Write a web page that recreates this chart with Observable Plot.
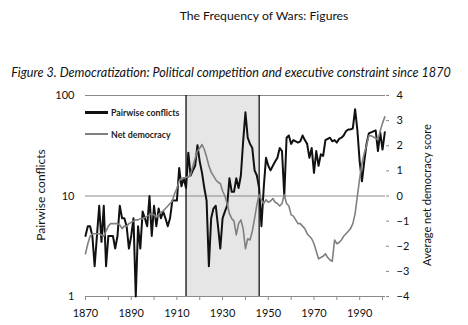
<!DOCTYPE html>
<html><head><meta charset="utf-8">
<script src="https://cdn.jsdelivr.net/npm/d3@7"></script>
<script src="https://cdn.jsdelivr.net/npm/@observablehq/plot@0.6"></script>
<style>
body{margin:0;background:#fff;font-family:Lato,"Open Sans",sans-serif;color:#111;}
#wrap{position:relative;width:468px;height:325px;overflow:hidden;background:#fff;}
.abs{position:absolute;white-space:nowrap;}
#t1{left:264px;top:15px;transform:translate(-50%,-50%);font-size:12.2px;}
#t2{left:231px;top:72px;transform:translate(-50%,-50%);font-size:12.6px;font-style:italic;}
#ylab{left:40px;top:195px;transform:translate(-50%,-50%) rotate(-90deg);font-size:12px;}
#y2lab{left:426px;top:195px;transform:translate(-50%,-50%) rotate(-90deg);font-size:11px;}
.plot{position:absolute;left:0;top:85px;}
.leg{position:absolute;left:85px;font-size:8.8px;display:flex;align-items:center;font-weight:bold;color:#222;}
.leg span.l{display:inline-block;width:23px;margin-right:3px;}
</style></head>
<body>
<div id="wrap">
  <div id="t1" class="abs">The Frequency of Wars: Figures</div>
  <div id="t2" class="abs">Figure 3. Democratization: Political competition and executive constraint since 1870</div>
  <div id="ylab" class="abs">Pairwise conflicts</div>
  <div id="y2lab" class="abs">Average net democracy score</div>
</div>
<script>
const years = [1870,1871,1872,1873,1874,1875,1876,1877,1878,1879,
1880,1881,1882,1883,1884,1885,1886,1887,1888,1889,
1890,1891,1892,1893,1894,1895,1896,1897,1898,1899,
1900,1901,1902,1903,1904,1905,1906,1907,1908,1909,
1910,1911,1912,1913,1914,1915,1916,1917,1918,1919,
1920,1921,1922,1923,1924,1925,1926,1927,1928,1929,
1930,1931,1932,1933,1934,1935,1936,1937,1938,1939,
1940,1941,1942,1943,1944,1945,1946,1947,1948,1949,
1950,1951,1952,1953,1954,1955,1956,1957,1958,1959,
1960,1961,1962,1963,1964,1965,1966,1967,1968,1969,
1970,1971,1972,1973,1974,1975,1976,1977,1978,1979,
1980,1981,1982,1983,1984,1985,1986,1987,1988,1989,
1990,1991,1992,1993,1994,1995,1996,1997,1998,1999,
2000,2001];
const pairwiseConflicts = [4,5,5,4,2,4,8,3.5,8,2,
4,4,4,3,4,8,6,6,5,3,
4,6,1,5,3,7,6,5,10,4,
8,5,7.5,6,7,6,5,6,9,9,
9,19,12.5,15,12,27,16,18,20,32,
22,17,12,9,2,6,7.5,8,5,3,
6,7,8,15,11,11,15,12,16,35,
68,38,33,30,18,16,12,5,12,24,
20,18,20,22,24,30,28,10,38,40,
33,36,35,34,35,40,36,33,24,30,
17,28,20,26,25,36,37,38,35,36,
34,37,38,40,44,46,46,47,73,45,
22,14,22,33,42,43,44,45,28,43,
29,43];
const netDemocracy = [-2.3,-1.9,-1.6,-1.5,-1.5,-1.5,-1.5,-1.55,-1.6,-1.4,
-1.2,-1.1,-1.1,-1.1,-1.1,-1.15,-1.3,-1.2,-1.2,-1.1,
-1.05,-1.0,-0.95,-0.95,-0.9,-0.9,-0.85,-0.8,-0.75,-0.7,
-0.75,-0.85,-0.75,-0.65,-0.6,-0.5,-0.4,-0.3,-0.2,0.1,
0.3,0.6,0.7,0.7,0.75,0.75,0.85,1.2,1.5,1.8,
1.9,2.05,1.85,1.55,1.2,0.95,0.8,0.65,0.55,0.5,
0.2,0.0,-0.3,-0.7,-0.9,-1.0,-1.55,-1.1,-0.95,-1.3,
-2.1,-1.7,-1.75,-1.4,-0.9,-0.35,0.05,-0.15,-0.3,-0.15,
-0.25,-0.2,-0.1,-0.25,-0.3,-0.4,-0.3,0.05,-0.3,-0.4,
-0.75,-0.8,-0.95,-1.1,-1.1,-1.2,-1.3,-1.5,-1.6,-1.7,
-1.9,-2.2,-2.5,-2.45,-2.4,-2.3,-2.45,-2.55,-2.6,-1.75,
-1.9,-1.85,-1.75,-1.6,-1.5,-1.4,-1.3,-1.1,-0.7,0.0,
0.7,1.3,1.7,2.0,2.4,2.4,2.35,2.3,2.25,2.6,
2.9,3.15];
const warPeriod = [{start:1914, end:1946}];
const xTicks = [1870,1880,1890,1900,1910,1920,1930,1940,1950,1960,1970,1980,1990,2000];
const xLabels = [1870,1890,1910,1930,1950,1970,1990];
const leftTicks = [1,10,100];
const rightTicks = [-4,-3,-2,-1,0,1,2,3,4];

const conflictRows = years.map((y,i)=>({year:y, value:pairwiseConflicts[i]}));
const demRows = years.map((y,i)=>({year:y, value:netDemocracy[i]}));

const common = {
  width:468, height:240, marginLeft:85, marginRight:83, marginTop:10, marginBottom:29,
  style:{fontFamily:"Lato, sans-serif", fontSize:"11px", color:"#111", background:"transparent", overflow:"visible"}
};

const base = Plot.plot({
  ...common,
  x:{domain:[1870,2001.3]},
  y:{type:"log", domain:[1,100]},
  marks:[
    Plot.rect(warPeriod, {x1:"start", x2:"end", y1:1, y2:100, fill:"#e6e6e6"}),
    Plot.ruleY([10,100], {stroke:"#8a8a8a", strokeWidth:1}),
    Plot.ruleY([1], {stroke:"#8a8a8a", strokeWidth:1}),
    Plot.ruleX(warPeriod, {x:"start", y1:1, y2:100, stroke:"#000", strokeWidth:1.2}),
    Plot.ruleX(warPeriod, {x:"end", y1:1, y2:100, stroke:"#000", strokeWidth:1.2}),
    Plot.axisX({ticks:xTicks, tickSize:4, tickPadding:9, stroke:"#8a8a8a", label:null,
      tickFormat:d=>xLabels.includes(d)?String(d):"", fontSize:11}),
    Plot.axisY({ticks:leftTicks, tickSize:0, tickPadding:11, label:null, tickFormat:d=>String(d), fontSize:11}),
    Plot.line(conflictRows, {x:"year", y:"value", stroke:"#111", strokeWidth:2, strokeLinejoin:"round"})
  ]
});
const over = Plot.plot({
  ...common,
  x:{domain:[1870,2001.3], axis:null},
  y:{domain:[-4,4], axis:null},
  marks:[
    Plot.axisY({ticks:rightTicks, anchor:"right", tickSize:3, tickPadding:8, stroke:"#8a8a8a", label:null, fontSize:11}),
    Plot.line(demRows, {x:"year", y:"value", stroke:"#808080", strokeWidth:1.6, strokeLinejoin:"round"})
  ]
});
base.classList.add("plot"); over.classList.add("plot");
const wrap = document.getElementById("wrap");
wrap.appendChild(base); wrap.appendChild(over);

const legendItems = [
  {label:"Pairwise conflicts", color:"#111", w:3, top:112},
  {label:"Net democracy", color:"#808080", w:1.6, top:134}
];
for (const it of legendItems) {
  const d = document.createElement("div");
  d.className = "leg";
  d.style.top = (it.top - 7) + "px";
  d.style.height = "14px";
  const l = document.createElement("span");
  l.className = "l"; l.style.height = it.w + "px"; l.style.background = it.color;
  const t = document.createElement("span");
  t.textContent = it.label;
  d.appendChild(l); d.appendChild(t);
  wrap.appendChild(d);
}
</script>
</body></html>
